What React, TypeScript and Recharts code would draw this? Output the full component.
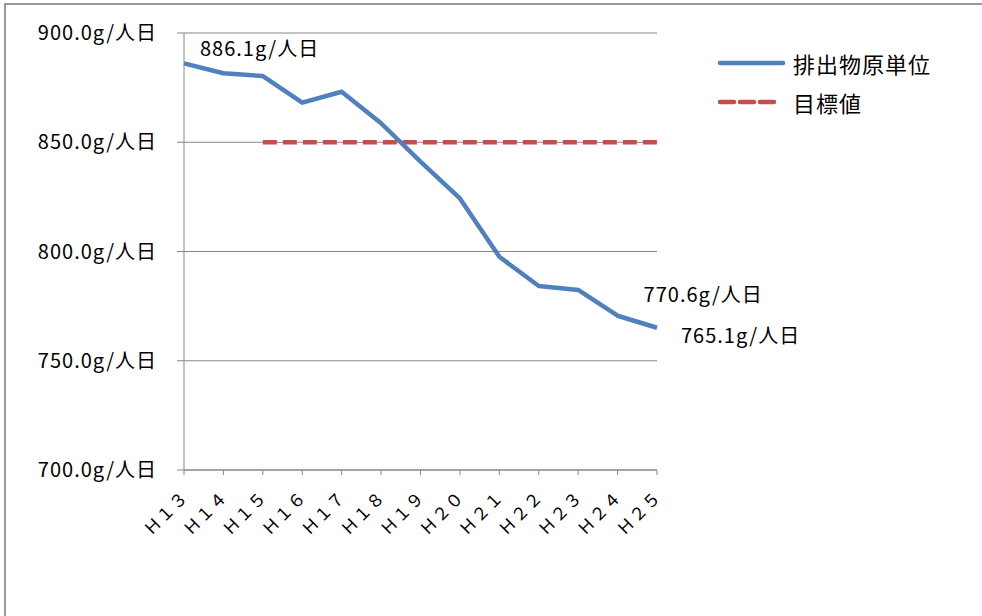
import React from 'react';
import { LineChart, Line, XAxis, YAxis, CartesianGrid, LabelList } from 'recharts';

const years = ['Ｈ１３', 'Ｈ１４', 'Ｈ１５', 'Ｈ１６', 'Ｈ１７', 'Ｈ１８', 'Ｈ１９', 'Ｈ２０', 'Ｈ２１', 'Ｈ２２', 'Ｈ２３', 'Ｈ２４', 'Ｈ２５'];
const unitValues = [886.1, 881.6, 880.3, 868.1, 873.1, 858.7, 841.1, 824.3, 797.6, 784.2, 782.4, 770.6, 765.1];
const targetValues = [null, null, 850, 850, 850, 850, 850, 850, 850, 850, 850, 850, 850];
const yTicks = [700, 750, 800, 850, 900];
const labelledPoints = [0, 11, 12];

const FONT = '"Noto Sans CJK JP", "Noto Sans", sans-serif';

const series = [
  { key: 'unit', name: '排出物原単位', color: '#4F81BD', dash: undefined as string | undefined },
  { key: 'target', name: '目標値', color: '#C0504D', dash: '14 6' },
];

// label offsets from the point (dx to the text start, dy to the text middle)
const labelOffsets: Record<number, [number, number]> = {
  0: [16, -14],
  11: [26, -21],
  12: [24, 8],
};

const data = years.map((year, i) => ({
  year,
  unit: unitValues[i],
  target: targetValues[i],
}));

const fmt = (v: number) => `${v.toFixed(1)}g/人日`;

const XTick = ({ x, y, payload }: any) => (
  <g transform={`translate(${x + 1},${y})`}>
    <text textAnchor="end" transform="rotate(-45)" fontSize={17} letterSpacing={1} fill="#000" dy="0.35em" fontFamily={FONT}>
      {payload.value}
    </text>
  </g>
);

const PointLabel = (props: any) => {
  const { x, y, index, value } = props;
  if (!labelledPoints.includes(index)) return null;
  const [dx, dy] = labelOffsets[index];
  return (
    <text x={x + dx} y={y + dy} dy="0.35em" fontSize={20} letterSpacing={1} fill="#000" fontFamily={FONT}>
      {fmt(value)}
    </text>
  );
};

const LegendBox = () => (
  <div style={{ position: 'absolute', left: 716, top: 43, fontFamily: FONT, fontSize: 22, letterSpacing: 1, color: '#000' }}>
    {series.map((s) => (
      <div key={s.key} style={{ display: 'flex', alignItems: 'center', height: 39 }}>
        <svg width={70} height={10} style={{ marginRight: 7 }}>
          <line
            x1={4}
            y1={5}
            x2={s.dash ? 58 : 67}
            y2={5}
            stroke={s.color}
            strokeWidth={4.5}
            strokeDasharray={s.dash}
            strokeLinecap="round"
          />
        </svg>
        <span>{s.name}</span>
      </div>
    ))}
  </div>
);

export default function App() {
  return (
    <div
      style={{
        position: 'absolute',
        left: 0,
        top: 0,
        width: 982,
        height: 616,
        overflow: 'hidden',
        background: '#fff',
      }}
    >
      <div
        style={{
          position: 'absolute',
          left: 4,
          top: 3,
          width: 1000,
          height: 640,
          boxSizing: 'border-box',
          borderTop: '2px solid #999999',
          borderLeft: '2px solid #999999',
        }}
      />
      <div style={{ position: 'absolute', left: 0, top: 0 }}>
        <LineChart width={982} height={616} data={data} margin={{ top: 33, right: 325, bottom: 46, left: 0 }}>
          <CartesianGrid vertical={false} stroke="#878787" strokeWidth={1.2} />
          <XAxis
            dataKey="year"
            height={100}
            stroke="#878787"
            tickSize={5}
            tickMargin={19}
            interval={0}
            tick={<XTick />}
          />
          <YAxis
            width={184}
            domain={[700, 900]}
            ticks={yTicks}
            tickFormatter={fmt}
            stroke="#878787"
            tickSize={7}
            tickMargin={20}
            tick={{ fill: '#000', fontSize: 20, letterSpacing: 1, fontFamily: FONT }}
          />
          <Line
            dataKey="target"
            name="目標値"
            stroke="#C0504D"
            strokeWidth={4.5}
            strokeDasharray="14 6"
            dot={false}
            activeDot={false}
            isAnimationActive={false}
          />
          <Line
            dataKey="unit"
            name="排出物原単位"
            stroke="#4F81BD"
            strokeWidth={4.5}
            strokeLinejoin="round"
            dot={false}
            activeDot={false}
            isAnimationActive={false}
          >
            <LabelList dataKey="unit" content={<PointLabel />} />
          </Line>
        </LineChart>
      </div>
      <LegendBox />
    </div>
  );
}
